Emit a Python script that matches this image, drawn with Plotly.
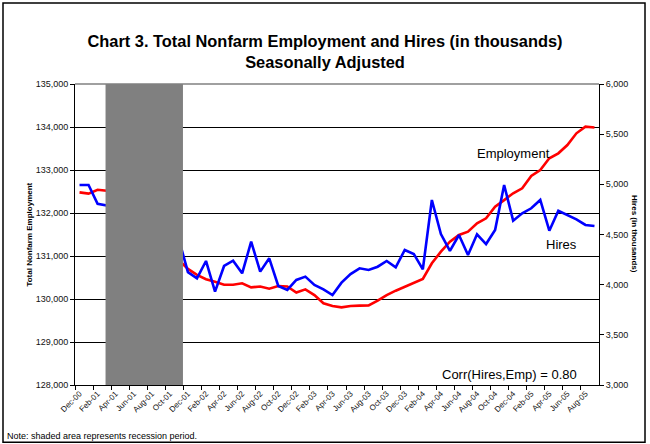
import plotly.graph_objects as go

# monthly, Dec-00 .. Sep-05
months = ["Dec-00", "Jan-01", "Feb-01", "Mar-01", "Apr-01", "May-01", "Jun-01", "Jul-01", "Aug-01", "Sep-01",
          "Oct-01", "Nov-01", "Dec-01", "Jan-02", "Feb-02", "Mar-02", "Apr-02", "May-02", "Jun-02", "Jul-02",
          "Aug-02", "Sep-02", "Oct-02", "Nov-02", "Dec-02", "Jan-03", "Feb-03", "Mar-03", "Apr-03", "May-03",
          "Jun-03", "Jul-03", "Aug-03", "Sep-03", "Oct-03", "Nov-03", "Dec-03", "Jan-04", "Feb-04", "Mar-04",
          "Apr-04", "May-04", "Jun-04", "Jul-04", "Aug-04", "Sep-04", "Oct-04", "Nov-04", "Dec-04", "Jan-05",
          "Feb-05", "Mar-05", "Apr-05", "May-05", "Jun-05", "Jul-05", "Aug-05", "Sep-05"]

employment = [132480, 132450, 132540, 132520, 132300, 132250, 132120, 132000, 131900, 131650,
              131300, 130900, 130700, 130560, 130460, 130400, 130330, 130330, 130365, 130270,
              130290, 130240, 130300, 130290, 130150, 130225, 130090, 129900, 129837, 129805,
              129837, 129845, 129850, 129960, 130090, 130193, 130287, 130370, 130465, 130830,
              131100, 131333, 131490, 131565, 131760, 131877, 132147, 132300, 132458, 132574,
              132860, 133000, 133272, 133388, 133581, 133853, 134007, 133990]

hires = [4993, 4993, 4805, 4790, 4700, 4650, 4600, 4560, 4500, 4400,
         4480, 4450, 4125, 4063, 4236, 3930, 4186, 4239, 4113, 4428,
         4130, 4263, 3987, 3947, 4047, 4080, 3997, 3954, 3897, 4020,
         4106, 4163, 4146, 4179, 4236, 4173, 4346, 4306, 4153, 4844,
         4505, 4336, 4495, 4296, 4502, 4405, 4545, 4993, 4638, 4711,
         4761, 4844, 4538, 4737, 4694, 4651, 4595, 4585]

recession_start = "Mar-01"
recession_end = "Nov-01"

idx = list(range(len(months)))
font_family = "Liberation Sans, Arial, sans-serif"

fig = go.Figure()
fig.add_trace(go.Scatter(x=idx, y=employment, mode="lines", name="Employment",
                         line=dict(color="#FF0000", width=2.6), yaxis="y"))
fig.add_trace(go.Scatter(x=idx, y=hires, mode="lines", name="Hires",
                         line=dict(color="#0000FF", width=2.6), yaxis="y2"))

x0 = months.index(recession_start) - 0.12
x1 = months.index(recession_end) + 0.45

fig.update_layout(
    width=650, height=444,
    margin=dict(l=75, r=51, t=84, b=59),
    paper_bgcolor="white", plot_bgcolor="white",
    showlegend=False,
    font=dict(family=font_family, color="#000000"),
    title=dict(text="<b>Chart 3. Total Nonfarm Employment and Hires (in thousands)<br>Seasonally Adjusted</b>",
               x=0.5, xanchor="center", y=0.894, yanchor="middle",
               font=dict(size=16.4, family=font_family, color="#000000")),
    xaxis=dict(range=[-0.5, len(months) - 0.5], tickvals=idx[0:57:2], ticktext=months[0:57:2],
               tickangle=-45, tickfont=dict(size=8, color="#111111"), ticks="", showgrid=False,
               showline=True, linecolor="#000000", linewidth=1, zeroline=False,
               minor=dict(tickvals=[i - 0.5 for i in idx[0:58:2]], ticks="outside", ticklen=4,
                          tickcolor="#000000", showgrid=False)),
    yaxis=dict(range=[128000, 135000], dtick=1000, tickformat=",", showgrid=True,
               gridcolor="#000000", gridwidth=1, showline=True, linecolor="#000000", linewidth=1,
               ticks="outside", ticklen=4, tickcolor="#000000", zeroline=False,
               tickfont=dict(size=9, color="#111111")),
    yaxis2=dict(range=[3000, 6000], dtick=500, tickformat=",", overlaying="y", side="right",
                showgrid=False, showline=True, linecolor="#000000", linewidth=1,
                ticks="outside", ticklen=4, tickcolor="#000000", zeroline=False,
                tickfont=dict(size=9, color="#111111")),
    shapes=[
        dict(type="rect", xref="x", yref="paper", x0=x0, x1=x1, y0=0, y1=1,
             fillcolor="#808080", line=dict(width=0), layer="above"),
        dict(type="line", xref="paper", yref="paper", x0=0, x1=1, y0=1, y1=1,
             line=dict(color="#808080", width=1.5), layer="below"),
        dict(type="rect", xref="paper", yref="paper", x0=-0.1374, x1=1.0878, y0=-0.19, y1=1.269,
             line=dict(color="#000000", width=1.5)),
    ],
    annotations=[
        dict(text="<b>Total Nonfarm Employment</b>", x=-0.1, y=0.5, xref="paper", yref="paper",
             textangle=-90, showarrow=False, font=dict(size=8)),
        dict(text="<b>Hires (in thousands)</b>", x=1.08, y=0.5, xref="paper", yref="paper",
             textangle=90, showarrow=False, font=dict(size=8)),
        dict(text="Employment", x=months.index("Dec-04"), y=133395, xref="x", yref="y",
             showarrow=False, font=dict(size=13)),
        dict(text="Hires", x=53.3, y=4405, xref="x", yref="y2",
             showarrow=False, font=dict(size=13)),
        dict(text="Corr(Hires,Emp) = 0.80", x=47.6, y=128233, xref="x", yref="y",
             showarrow=False, font=dict(size=13)),
        dict(text="Note: shaded area represents recession period.", x=-0.134, y=-0.145,
             xref="paper", yref="paper", xanchor="left", yanchor="top", showarrow=False,
             font=dict(size=9)),
    ],
)

fig.write_html("out.html", config={"displayModeBar": False},
               post_script="document.body.style.margin='0';")
